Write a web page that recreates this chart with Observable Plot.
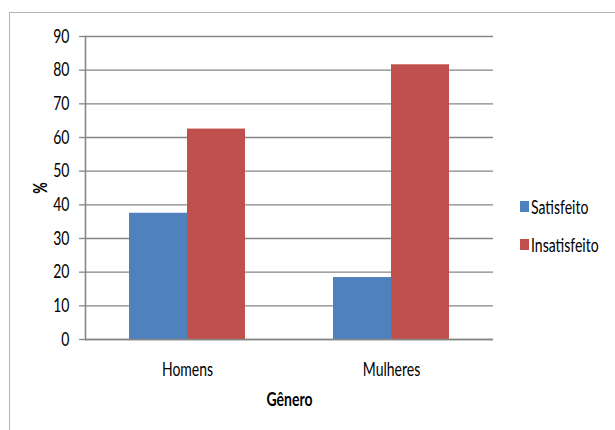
<!DOCTYPE html>
<html>
<head>
<meta charset="utf-8">
<script src="https://cdn.jsdelivr.net/npm/d3@7"></script>
<script src="https://cdn.jsdelivr.net/npm/@observablehq/plot@0.6"></script>
<style>
  body { margin: 0; background: #fff; }
  #chart { position: relative; width: 615px; height: 430px; overflow: hidden; font-family: Lato, "Open Sans", sans-serif; }
  #border { position: absolute; left: 9px; top: 12px; width: 700px; height: 500px; border: 1px solid #b4b4b4; }
  #plot { position: absolute; left: 0; top: 0; }
  #legend { position: absolute; left: 520px; top: 198px; font-size: 14px; color: #000; }
  #legend .item { display: flex; align-items: center; height: 16px; margin-bottom: 22px; }
  #legend .swatch { width: 9px; height: 11px; margin-right: 2px; }
  #legend .name { display: inline-block; transform: scaleY(1.35); transform-origin: center; }
</style>
</head>
<body>
<div id="chart">
  <div id="border"></div>
  <div id="plot"></div>
  <div id="legend"></div>
</div>
<script>
// Satisfação por gênero (%)
const groups = ["Homens", "Mulheres"];
const series = ["Satisfeito", "Insatisfeito"];
const satisfeito = [37.5, 18.4];
const insatisfeito = [62.5, 81.6];
const colors = ["#4f81bd", "#c0504d"];
const yTicks = [0, 10, 20, 30, 40, 50, 60, 70, 80, 90];

const rows = groups.flatMap((g, i) => [
  {genero: g, serie: series[0], valor: satisfeito[i]},
  {genero: g, serie: series[1], valor: insatisfeito[i]}
]);

const axisGray = "#868686";

const plot = Plot.plot({
  width: 615,
  height: 430,
  marginLeft: 85,
  marginRight: 122,
  marginTop: 36,
  marginBottom: 91,
  style: {fontFamily: "Lato, 'Open Sans', sans-serif", fontSize: "14px", color: "#000", background: "transparent", overflow: "visible"},
  fx: {domain: groups, padding: 0},
  x: {domain: series, paddingInner: 0, paddingOuter: 0.75, axis: null},
  y: {domain: [0, 90]},
  color: {domain: series, range: colors},
  marks: [
    Plot.gridY(yTicks, {stroke: axisGray, strokeOpacity: 1, strokeWidth: 1.3}),
    Plot.barY(rows, {fx: "genero", x: "serie", y: "valor", fill: "serie"}),
    Plot.ruleY([0], {stroke: axisGray, strokeWidth: 1.6}),
    Plot.frame({anchor: "left", stroke: axisGray, strokeWidth: 1.6, facetAnchor: "left"}),
    Plot.axisY(yTicks, {tickSize: 6, tickPadding: 10, stroke: axisGray, strokeWidth: 1.3, fill: "#000",
      label: "%", labelAnchor: "center", labelOffset: 52, labelArrow: "none"}),
    Plot.axisFx({anchor: "bottom", tickSize: 0, tickPadding: 23, fill: "#000",
      label: "Gênero", labelAnchor: "center", labelOffset: 66, labelArrow: "none"})
  ]
});

document.getElementById("plot").appendChild(plot);

// bold axis titles
d3.select(plot).selectAll('g[aria-label="y-axis label"] text, g[aria-label="fx-axis label"] text')
  .style("font-weight", "bold");

// tall, narrow lettering: stretch every label vertically about its anchor
d3.select(plot).selectAll("text").each(function() {
  const el = d3.select(this);
  let tx = 0, ty = 0;
  for (const [a, k] of [["x", 0], ["y", 1]]) {
    const v = el.attr(a);
    if (v != null && !/em$/.test(v) && isFinite(+v)) {
      if (k === 0) tx = +v; else ty = +v;
      el.attr(a, null);
    }
  }
  const t = el.attr("transform") || "";
  el.attr("transform", `translate(${tx},${ty}) ${t} scale(1,1.35)`);
});

// legend
const legend = d3.select("#legend");
series.forEach((s, i) => {
  const item = legend.append("div").attr("class", "item");
  item.append("span").attr("class", "swatch").style("background", colors[i]);
  item.append("span").attr("class", "name").text(s);
});
</script>
</body>
</html>
